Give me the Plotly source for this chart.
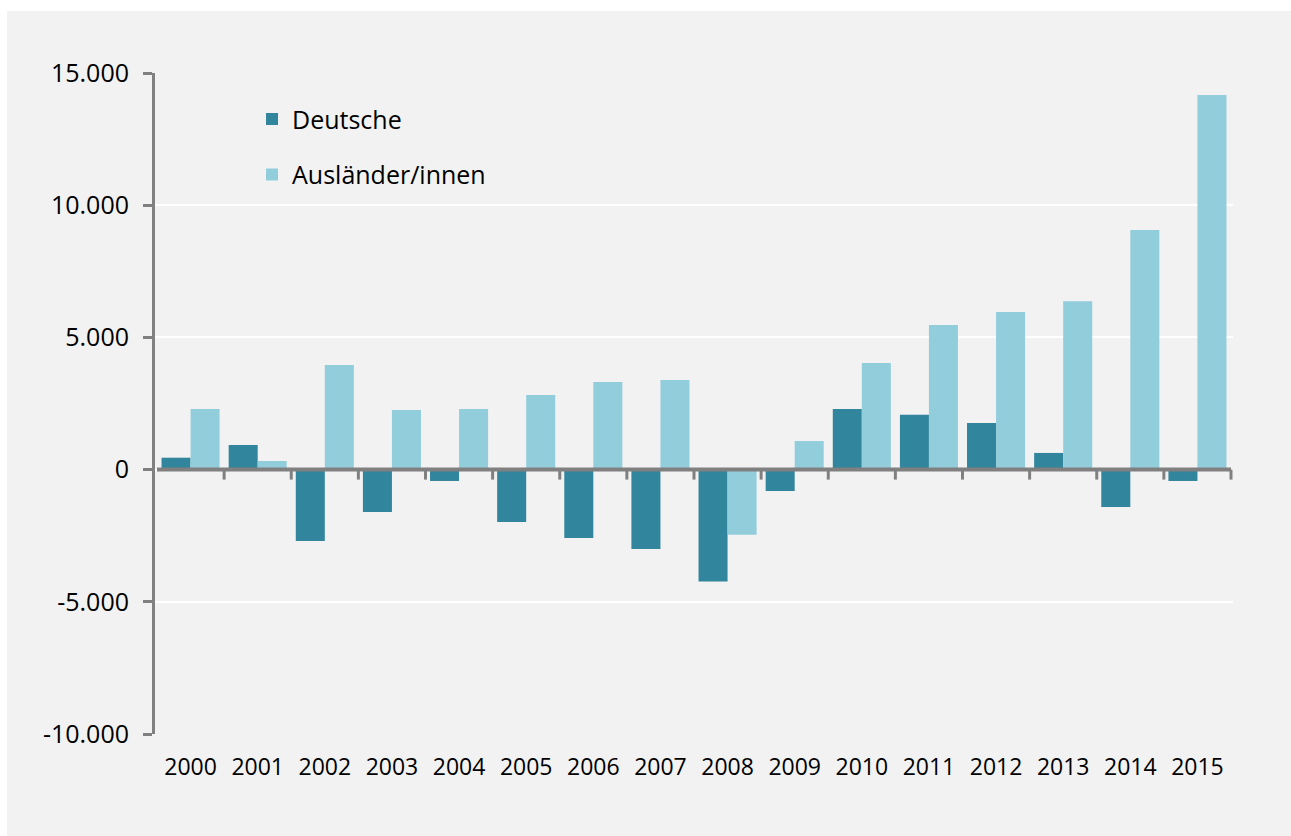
import plotly.graph_objects as go

years = ["2000", "2001", "2002", "2003", "2004", "2005", "2006", "2007",
         "2008", "2009", "2010", "2011", "2012", "2013", "2014", "2015"]
deutsche = [450, 930, -2700, -1600, -430, -1980, -2590, -3000,
            -4230, -810, 2290, 2070, 1760, 630, -1410, -430]
auslaender = [2290, 325, 3960, 2250, 2290, 2820, 3310, 3390,
              -2460, 1080, 4030, 5470, 5960, 6370, 9060, 14170]
y_tickvals = [-10000, -5000, 0, 5000, 10000, 15000]
y_ticktext = ["-10.000", "-5.000", "0", "5.000", "10.000", "15.000"]

W, H = 1291, 836
L, R, T, B = 155, 58, 73, 102
pw, ph = W - L - R, H - T - B

FONT = "Open Sans"
GRAY = "#808080"
PANEL = "#f2f2f2"

fig = go.Figure()
fig.add_trace(go.Bar(x=years, y=deutsche, name="Deutsche", marker_color="#31859C",
                     marker_line_width=0, legendgroup="a"))
fig.add_trace(go.Bar(x=years, y=auslaender, name="Ausländer/innen", marker_color="#92CDDC",
                     marker_line_width=0, legendgroup="b"))

shapes = []
# thin white border at the top and left of the grey panel
shapes.append(dict(type="rect", xref="paper", yref="paper", layer="below",
                   x0=-L / pw - 0.01, x1=1 + R / pw + 0.01,
                   y0=1 + (T - 11) / ph, y1=1 + (T + 2) / ph,
                   fillcolor="white", line_width=0))
shapes.append(dict(type="rect", xref="paper", yref="paper", layer="below",
                   x0=-(L + 2) / pw, x1=(7 - L) / pw,
                   y0=-(B + 2) / ph, y1=1 + (T + 2) / ph,
                   fillcolor="white", line_width=0))
# zero axis line
shapes.append(dict(type="line", xref="x", yref="y", x0=-0.5, x1=len(years) - 0.5,
                   y0=0, y1=0, line=dict(color=GRAY, width=4), layer="above"))
# boundary tick marks
for i in range(1, len(years) + 1):
    shapes.append(dict(type="line", xref="x", yref="y", ysizemode="pixel", yanchor=0,
                       x0=i - 0.5, x1=i - 0.5, y0=0, y1=-10,
                       line=dict(color=GRAY, width=3), layer="above"))

fig.update_layout(
    width=W, height=H,
    margin=dict(l=L, r=R, t=T, b=B, autoexpand=False),
    paper_bgcolor=PANEL,
    plot_bgcolor=PANEL,
    font=dict(family=FONT, color="#000000", size=24),
    barmode="group", bargap=0.135, bargroupgap=0,
    showlegend=True,
    legend=dict(x=0.09, y=0.965, xanchor="left", yanchor="top", bgcolor="rgba(0,0,0,0)",
                font=dict(size=25, family=FONT), tracegroupgap=20, traceorder="grouped"),
    shapes=shapes,
)
fig.update_xaxes(type="category", showline=False, showgrid=False, zeroline=False,
                 ticks="outside", ticklen=12, tickcolor="rgba(0,0,0,0)",
                 tickfont=dict(size=23, family=FONT))
fig.update_yaxes(range=[-10000, 15000], tickvals=y_tickvals, ticktext=y_ticktext,
                 showline=True, linecolor=GRAY, linewidth=3,
                 ticks="outside", ticklen=9, tickwidth=3, tickcolor=GRAY,
                 showgrid=True, gridcolor="white", gridwidth=1.5, zeroline=False,
                 ticklabelstandoff=9, tickfont=dict(size=25, family=FONT))

fig.write_html("out.html", config={"displayModeBar": False},
               post_script="document.body.style.margin='0px';")
